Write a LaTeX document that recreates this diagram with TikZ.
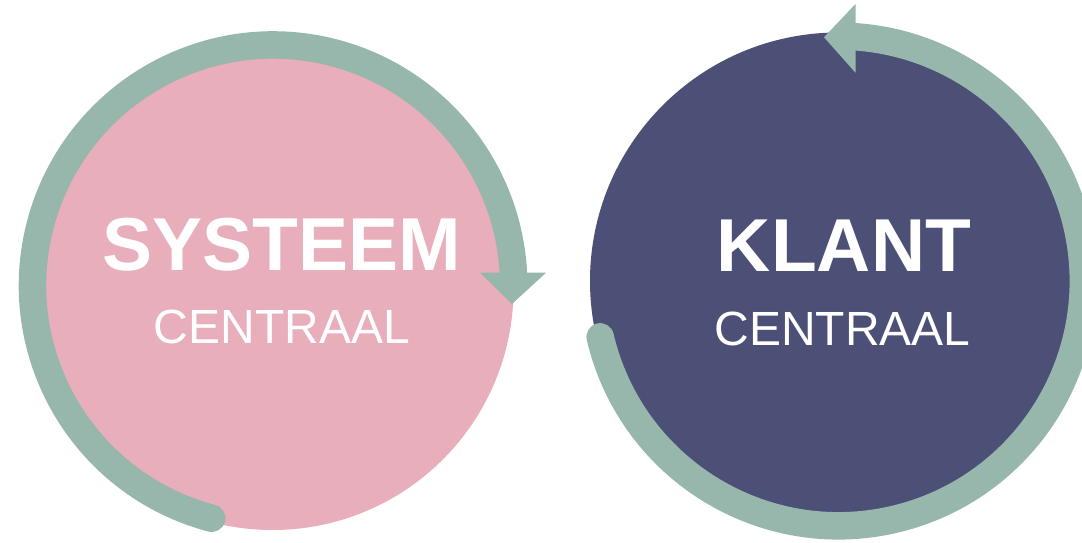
\documentclass[tikz,border=0pt]{standalone}
\usepackage{fontspec}
\setmainfont{Liberation Sans}
\definecolor{pinkfill}{HTML}{E8AEBC}
\definecolor{navyfill}{HTML}{4C4F76}
\definecolor{sage}{HTML}{97B7AC}
\tikzset{
  disc/.style={circle, inner sep=0pt, minimum size=#1},
  cyclearc/.style={draw=sage, line width=27.5pt, line cap=round},
  tiphead/.style={fill=sage, draw=none},
  bigword/.style={font=\fontsize{75}{80}\selectfont\bfseries, text=white, anchor=base, inner sep=0pt},
  smallword/.style={font=\fontsize{48}{52}\selectfont, text=white, anchor=base, inner sep=0pt}
}
\begin{document}
\begin{tikzpicture}[x=1pt,y=1pt]
\useasboundingbox (0,0) rectangle (1082,543);
% left circle
\node[disc=482pt, fill=pinkfill] (pinkc) at (272.5,254) {};
\draw[cyclearc] (273.1,257.4) ++(255.2:240.6) arc[start angle=255.2, end angle=3.07, radius=240.6];
\fill[tiphead] (480,270.3) -- (546,270.3) -- (512,239) -- cycle;
\node[bigword] (sys) at (282,272) {SYSTEEM};
\node[smallword] (cen1) at (282,199) {CENTRAAL};
% right circle
\node[disc=497pt, fill=navyfill] (navyc) at (838.5,262) {};
\draw[cyclearc] (838.5,262) ++(193.2:244.8) arc[start angle=193.2, end angle=445.9, radius=244.8];
\fill[tiphead] (855.5,539) -- (855.5,470.3) -- (824,505.7) -- cycle;
\node[bigword] (klant) at (844,271.5) {KLANT};
\node[smallword] (cen2) at (842.5,197.3) {CENTRAAL};
\end{tikzpicture}
\end{document}
